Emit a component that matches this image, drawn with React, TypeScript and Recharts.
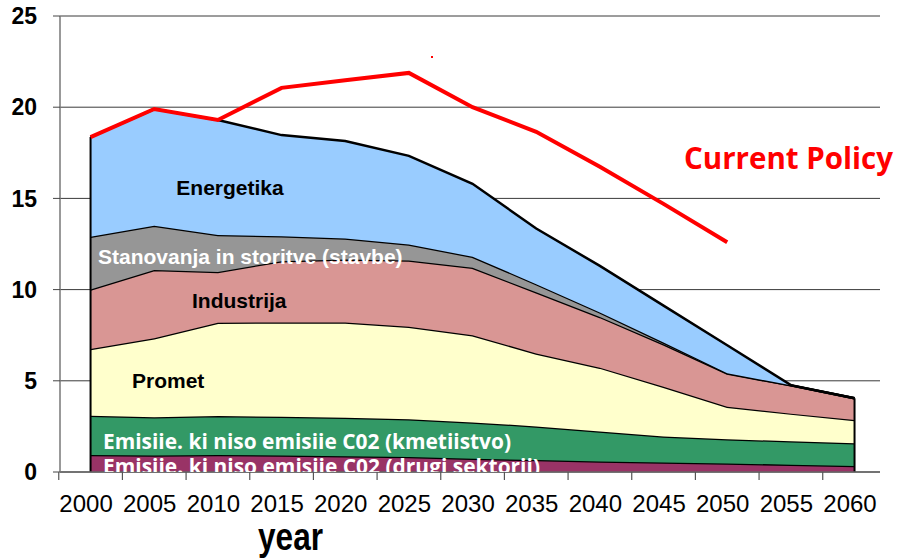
import React from "react";
import {
  ComposedChart,
  Area,
  Line,
  XAxis,
  YAxis,
  CartesianGrid,
  ReferenceLine,
} from "recharts";

const years = [2000, 2005, 2010, 2015, 2020, 2025, 2030, 2035, 2040, 2045, 2050, 2055, 2060];
const drugiSektorji = [0.93, 0.9, 0.93, 0.9, 0.86, 0.82, 0.72, 0.66, 0.58, 0.52, 0.47, 0.4, 0.33];
const kmetijstvo = [2.16, 2.1, 2.14, 2.13, 2.12, 2.07, 2.0, 1.84, 1.64, 1.43, 1.33, 1.28, 1.24];
const promet = [3.65, 4.33, 5.11, 5.17, 5.22, 5.07, 4.78, 4.0, 3.5, 2.72, 1.78, 1.52, 1.28];
const industrija = [3.26, 3.74, 2.79, 3.36, 3.45, 3.64, 3.7, 3.35, 2.78, 2.33, 1.82, 1.55, 1.19];
const stavbe = [2.9, 2.43, 2.02, 1.37, 1.15, 0.87, 0.6, 0.45, 0.25, 0.1, 0.02, 0.0, 0.0];
const energetika = [5.46, 6.4, 6.31, 5.54, 5.35, 4.86, 4.0, 3.05, 2.55, 2.02, 1.53, 0.01, 0.0];
const currentPolicy: (number | null)[] = [18.36, 19.9, 19.3, 21.06, 21.48, 21.88, 20.0, 18.65, 16.73, 14.7, 12.6, null, null];
const yTicks = [0, 5, 10, 15, 20, 25];

const data = years.map((year, i) => ({
  year,
  drugi: drugiSektorji[i],
  kmet: kmetijstvo[i],
  promet: promet[i],
  industrija: industrija[i],
  stavbe: stavbe[i],
  energetika: energetika[i],
  policy: currentPolicy[i],
}));

const stackTop = (i: number) =>
  drugiSektorji[i] + kmetijstvo[i] + promet[i] + industrija[i] + stavbe[i] + energetika[i];

const FONT = "'Liberation Sans', Arial, sans-serif";
const HALF_STEP_PX = 31.8;
const SW = 2.5;

const XTick = (props: any) => {
  const { x, y, payload } = props;
  return (
    <g>
      <line x1={x - HALF_STEP_PX} x2={x - HALF_STEP_PX} y1={y} y2={y + 8} stroke="#555" strokeWidth={1.2} />
      <text x={x - 4.5} y={y + 40} textAnchor="middle" fontFamily={FONT} fontSize={24} fill="#000">
        {payload.value}
      </text>
    </g>
  );
};

export default function App() {
  const last = years.length - 1;
  return (
    <div style={{ position: "absolute", left: 0, top: 0, width: 900, height: 559, background: "#fff" }}>
      <ComposedChart
        width={900}
        height={559}
        data={data}
        margin={{ top: 16, right: 20, bottom: 0, left: 0 }}
      >
        <CartesianGrid vertical={false} stroke="#3a3a3a" strokeWidth={1} />
        <XAxis
          dataKey="year"
          type="number"
          domain={[1997.6, 2062]}
          allowDataOverflow
          ticks={years}
          interval={0}
          height={87}
          tickSize={0}
          tickMargin={0}
          tickLine={false}
          tick={<XTick />}
          axisLine={{ stroke: "#666", strokeWidth: 1.5 }}
        />
        <YAxis
          type="number"
          domain={[0, 25]}
          ticks={yTicks}
          width={60}
          tickSize={7}
          tickMargin={16}
          tickLine={{ stroke: "#444" }}
          axisLine={{ stroke: "#777", strokeWidth: 1.5 }}
          tick={{ fontFamily: FONT, fontSize: 23, fontWeight: "bold", fill: "#000" }}
        />
        <Area type="linear" dataKey="drugi" stackId="1" fill="#993366" fillOpacity={1} stroke="#000" strokeWidth={SW} isAnimationActive={false} />
        <Area type="linear" dataKey="kmet" stackId="1" fill="#339966" fillOpacity={1} stroke="#000" strokeWidth={SW} isAnimationActive={false} />
        <Area type="linear" dataKey="promet" stackId="1" fill="#FFFFCC" fillOpacity={1} stroke="#000" strokeWidth={SW} isAnimationActive={false} />
        <Area type="linear" dataKey="industrija" stackId="1" fill="#D99694" fillOpacity={1} stroke="#000" strokeWidth={SW} isAnimationActive={false} />
        <Area type="linear" dataKey="stavbe" stackId="1" fill="#969696" fillOpacity={1} stroke="#000" strokeWidth={SW} isAnimationActive={false} />
        <Area type="linear" dataKey="energetika" stackId="1" fill="#99CCFF" fillOpacity={1} stroke="#000" strokeWidth={SW} isAnimationActive={false} />
        <ReferenceLine
          segment={[{ x: years[0], y: 0 }, { x: years[0], y: stackTop(0) }]}
          stroke="#000"
          strokeWidth={2}
        />
        <ReferenceLine
          segment={[{ x: years[last], y: 0 }, { x: years[last], y: stackTop(last) }]}
          stroke="#000"
          strokeWidth={2}
        />
        <Line
          type="linear"
          dataKey="policy"
          stroke="#FF0000"
          strokeWidth={4}
          dot={false}
          connectNulls={false}
          isAnimationActive={false}
        />
      </ComposedChart>
      <svg
        width={900}
        height={559}
        style={{ position: "absolute", left: 0, top: 0, pointerEvents: "none" }}
      >
        <defs>
          <clipPath id="plotClip">
            <rect x={0} y={0} width={900} height={472} />
          </clipPath>
        </defs>
        <text x={230} y={187} textAnchor="middle" dominantBaseline="central" fontFamily={FONT} fontWeight="bold" fontSize={21} fill="#000">
          Energetika
        </text>
        <text x={98} y={256} dominantBaseline="central" fontFamily={FONT} fontWeight="bold" fontSize={21} fill="#fff">
          Stanovanja in storitve (stavbe)
        </text>
        <text x={192} y={300} dominantBaseline="central" fontFamily={FONT} fontWeight="bold" fontSize={21} fill="#000">
          Industrija
        </text>
        <text x={132} y={380} dominantBaseline="central" fontFamily={FONT} fontWeight="bold" fontSize={21} fill="#000">
          Promet
        </text>
        <text x={103} y={449} fontFamily="'Open Sans', sans-serif" fontWeight="bold" fontSize={21.5} fill="#fff" textLength={408} lengthAdjust="spacingAndGlyphs">
          Emisiie. ki niso emisiie C02 (kmetiistvo)
        </text>
        <g clipPath="url(#plotClip)">
          <text x={103} y={474} fontFamily="'Open Sans', sans-serif" fontWeight="bold" fontSize={21.5} fill="#fff" textLength={437} lengthAdjust="spacingAndGlyphs">
            Emisiie. ki niso emisiie C02 (drugi sektorii)
          </text>
        </g>
        <text x={684} y={169} fontFamily="'Open Sans', sans-serif" fontWeight="bold" fontSize={29.5} fill="#FF0000">
          Current Policy
        </text>
        <rect x={431} y={56} width={2} height={2} fill="#FF0000" />
        <text x={258} y={550} fontFamily="'Liberation Sans Narrow', 'Liberation Sans', Arial, sans-serif" fontWeight="bold" fontSize={38} fill="#000" textLength={65} lengthAdjust="spacingAndGlyphs">
          year
        </text>
      </svg>
    </div>
  );
}
